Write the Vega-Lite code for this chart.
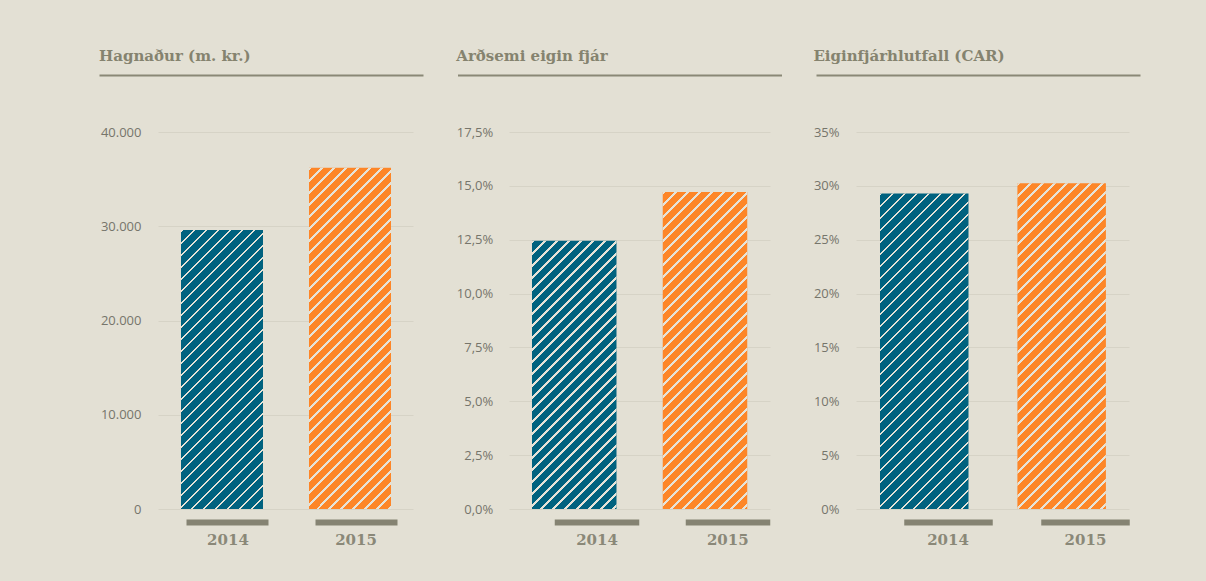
{
 "$schema": "https://vega.github.io/schema/vega-lite/v6.json",
 "background": "#e3e0d4",
 "padding": {"left": 99, "top": 49, "right": 66, "bottom": 40},
 "bounds": "flush",
 "spacing": 34.5,
 "params": [{"name": "hatch", "value": [
  {"offset":0,"color":"#e6e3d8"},{"offset":0.0058,"color":"#e6e3d8"},{"offset":0.0058,"color":"rgba(230,227,216,0)"},{"offset":0.02778,"color":"rgba(230,227,216,0)"},
  {"offset":0.02778,"color":"#e6e3d8"},{"offset":0.03358,"color":"#e6e3d8"},{"offset":0.03358,"color":"rgba(230,227,216,0)"},{"offset":0.05556,"color":"rgba(230,227,216,0)"},
  {"offset":0.05556,"color":"#e6e3d8"},{"offset":0.06136,"color":"#e6e3d8"},{"offset":0.06136,"color":"rgba(230,227,216,0)"},{"offset":0.08333,"color":"rgba(230,227,216,0)"},
  {"offset":0.08333,"color":"#e6e3d8"},{"offset":0.08913,"color":"#e6e3d8"},{"offset":0.08913,"color":"rgba(230,227,216,0)"},{"offset":0.11111,"color":"rgba(230,227,216,0)"},
  {"offset":0.11111,"color":"#e6e3d8"},{"offset":0.11691,"color":"#e6e3d8"},{"offset":0.11691,"color":"rgba(230,227,216,0)"},{"offset":0.13889,"color":"rgba(230,227,216,0)"},
  {"offset":0.13889,"color":"#e6e3d8"},{"offset":0.14469,"color":"#e6e3d8"},{"offset":0.14469,"color":"rgba(230,227,216,0)"},{"offset":0.16667,"color":"rgba(230,227,216,0)"},
  {"offset":0.16667,"color":"#e6e3d8"},{"offset":0.17247,"color":"#e6e3d8"},{"offset":0.17247,"color":"rgba(230,227,216,0)"},{"offset":0.19444,"color":"rgba(230,227,216,0)"},
  {"offset":0.19444,"color":"#e6e3d8"},{"offset":0.20024,"color":"#e6e3d8"},{"offset":0.20024,"color":"rgba(230,227,216,0)"},{"offset":0.22222,"color":"rgba(230,227,216,0)"},
  {"offset":0.22222,"color":"#e6e3d8"},{"offset":0.22802,"color":"#e6e3d8"},{"offset":0.22802,"color":"rgba(230,227,216,0)"},{"offset":0.25,"color":"rgba(230,227,216,0)"},
  {"offset":0.25,"color":"#e6e3d8"},{"offset":0.2558,"color":"#e6e3d8"},{"offset":0.2558,"color":"rgba(230,227,216,0)"},{"offset":0.27778,"color":"rgba(230,227,216,0)"},
  {"offset":0.27778,"color":"#e6e3d8"},{"offset":0.28358,"color":"#e6e3d8"},{"offset":0.28358,"color":"rgba(230,227,216,0)"},{"offset":0.30556,"color":"rgba(230,227,216,0)"},
  {"offset":0.30556,"color":"#e6e3d8"},{"offset":0.31136,"color":"#e6e3d8"},{"offset":0.31136,"color":"rgba(230,227,216,0)"},{"offset":0.33333,"color":"rgba(230,227,216,0)"},
  {"offset":0.33333,"color":"#e6e3d8"},{"offset":0.33913,"color":"#e6e3d8"},{"offset":0.33913,"color":"rgba(230,227,216,0)"},{"offset":0.36111,"color":"rgba(230,227,216,0)"},
  {"offset":0.36111,"color":"#e6e3d8"},{"offset":0.36691,"color":"#e6e3d8"},{"offset":0.36691,"color":"rgba(230,227,216,0)"},{"offset":0.38889,"color":"rgba(230,227,216,0)"},
  {"offset":0.38889,"color":"#e6e3d8"},{"offset":0.39469,"color":"#e6e3d8"},{"offset":0.39469,"color":"rgba(230,227,216,0)"},{"offset":0.41667,"color":"rgba(230,227,216,0)"},
  {"offset":0.41667,"color":"#e6e3d8"},{"offset":0.42247,"color":"#e6e3d8"},{"offset":0.42247,"color":"rgba(230,227,216,0)"},{"offset":0.44444,"color":"rgba(230,227,216,0)"},
  {"offset":0.44444,"color":"#e6e3d8"},{"offset":0.45024,"color":"#e6e3d8"},{"offset":0.45024,"color":"rgba(230,227,216,0)"},{"offset":0.47222,"color":"rgba(230,227,216,0)"},
  {"offset":0.47222,"color":"#e6e3d8"},{"offset":0.47802,"color":"#e6e3d8"},{"offset":0.47802,"color":"rgba(230,227,216,0)"},{"offset":0.5,"color":"rgba(230,227,216,0)"},
  {"offset":0.5,"color":"#e6e3d8"},{"offset":0.5058,"color":"#e6e3d8"},{"offset":0.5058,"color":"rgba(230,227,216,0)"},{"offset":0.52778,"color":"rgba(230,227,216,0)"},
  {"offset":0.52778,"color":"#e6e3d8"},{"offset":0.53358,"color":"#e6e3d8"},{"offset":0.53358,"color":"rgba(230,227,216,0)"},{"offset":0.55556,"color":"rgba(230,227,216,0)"},
  {"offset":0.55556,"color":"#e6e3d8"},{"offset":0.56136,"color":"#e6e3d8"},{"offset":0.56136,"color":"rgba(230,227,216,0)"},{"offset":0.58333,"color":"rgba(230,227,216,0)"},
  {"offset":0.58333,"color":"#e6e3d8"},{"offset":0.58913,"color":"#e6e3d8"},{"offset":0.58913,"color":"rgba(230,227,216,0)"},{"offset":0.61111,"color":"rgba(230,227,216,0)"},
  {"offset":0.61111,"color":"#e6e3d8"},{"offset":0.61691,"color":"#e6e3d8"},{"offset":0.61691,"color":"rgba(230,227,216,0)"},{"offset":0.63889,"color":"rgba(230,227,216,0)"},
  {"offset":0.63889,"color":"#e6e3d8"},{"offset":0.64469,"color":"#e6e3d8"},{"offset":0.64469,"color":"rgba(230,227,216,0)"},{"offset":0.66667,"color":"rgba(230,227,216,0)"},
  {"offset":0.66667,"color":"#e6e3d8"},{"offset":0.67247,"color":"#e6e3d8"},{"offset":0.67247,"color":"rgba(230,227,216,0)"},{"offset":0.69444,"color":"rgba(230,227,216,0)"},
  {"offset":0.69444,"color":"#e6e3d8"},{"offset":0.70024,"color":"#e6e3d8"},{"offset":0.70024,"color":"rgba(230,227,216,0)"},{"offset":0.72222,"color":"rgba(230,227,216,0)"},
  {"offset":0.72222,"color":"#e6e3d8"},{"offset":0.72802,"color":"#e6e3d8"},{"offset":0.72802,"color":"rgba(230,227,216,0)"},{"offset":0.75,"color":"rgba(230,227,216,0)"},
  {"offset":0.75,"color":"#e6e3d8"},{"offset":0.7558,"color":"#e6e3d8"},{"offset":0.7558,"color":"rgba(230,227,216,0)"},{"offset":0.77778,"color":"rgba(230,227,216,0)"},
  {"offset":0.77778,"color":"#e6e3d8"},{"offset":0.78358,"color":"#e6e3d8"},{"offset":0.78358,"color":"rgba(230,227,216,0)"},{"offset":0.80556,"color":"rgba(230,227,216,0)"},
  {"offset":0.80556,"color":"#e6e3d8"},{"offset":0.81136,"color":"#e6e3d8"},{"offset":0.81136,"color":"rgba(230,227,216,0)"},{"offset":0.83333,"color":"rgba(230,227,216,0)"},
  {"offset":0.83333,"color":"#e6e3d8"},{"offset":0.83913,"color":"#e6e3d8"},{"offset":0.83913,"color":"rgba(230,227,216,0)"},{"offset":0.86111,"color":"rgba(230,227,216,0)"},
  {"offset":0.86111,"color":"#e6e3d8"},{"offset":0.86691,"color":"#e6e3d8"},{"offset":0.86691,"color":"rgba(230,227,216,0)"},{"offset":0.88889,"color":"rgba(230,227,216,0)"},
  {"offset":0.88889,"color":"#e6e3d8"},{"offset":0.89469,"color":"#e6e3d8"},{"offset":0.89469,"color":"rgba(230,227,216,0)"},{"offset":0.91667,"color":"rgba(230,227,216,0)"},
  {"offset":0.91667,"color":"#e6e3d8"},{"offset":0.92247,"color":"#e6e3d8"},{"offset":0.92247,"color":"rgba(230,227,216,0)"},{"offset":0.94444,"color":"rgba(230,227,216,0)"},
  {"offset":0.94444,"color":"#e6e3d8"},{"offset":0.95024,"color":"#e6e3d8"},{"offset":0.95024,"color":"rgba(230,227,216,0)"},{"offset":0.97222,"color":"rgba(230,227,216,0)"},
  {"offset":0.97222,"color":"#e6e3d8"},{"offset":0.97802,"color":"#e6e3d8"},{"offset":0.97802,"color":"rgba(230,227,216,0)"},{"offset":1,"color":"rgba(230,227,216,0)"}
 ]}],
 "datasets": {
  "hagnadur": [{"year": "2014", "value": 29600}, {"year": "2015", "value": 36200}],
  "ardsemi": [{"year": "2014", "value": 12.45}, {"year": "2015", "value": 14.72}],
  "car": [{"year": "2014", "value": 29.3}, {"year": "2015", "value": 30.25}]
 },
 "hconcat": [
  {
   "width": 324, "height": 377,
   "title": {"text": "Hagnaður (m. kr.)"},
   "data": {"name": "hagnadur"},
   "layer": [
    {"mark": {"type": "bar"},
     "encoding": {
      "x": {"field": "year", "type": "nominal", "scale": {"paddingInner": 0.3594, "paddingOuter": 0.4453, "align": 0.7193},
        "axis": {"orient": "bottom", "title": null, "domain": false, "offset": 10, "tickSize": 6, "tickWidth": 82, "tickColor": "#858372", "tickOffset": 5.5, "labelAngle": 0, "labelFont": "DejaVu Serif", "labelFontSize": 15, "labelFontWeight": "bold", "labelColor": "#8a8878", "labelPadding": 7}},
      "y": {"field": "value", "type": "quantitative", "scale": {"domain": [0, 40000], "nice": false},
        "axis": {"title": null, "domain": false, "grid": false, "zindex": 0, "offset": -314, "tickSize": 255, "tickColor": "#d6d3c6", "tickWidth": 1, "labelPadding": 17, "values": [0, 10000, 20000, 30000, 40000], "labelExpr": "replace(format(datum.value, ','), ',', '.')"}},
      "color": {"field": "year", "type": "nominal", "scale": {"domain": ["2014", "2015"], "range": ["#00627f", "#fd8628"]}, "legend": null}
     }},
    {"mark": {"type": "bar", "fill": {"expr": "datum.year == '2014' ? {gradient: 'linear', x1: 0, y1: 0, x2: 0.4189, y2: 1.4253, stops: hatch} : {gradient: 'linear', x1: 0, y1: 0, x2: 0.2880, y2: 1.1976, stops: hatch}"}},
     "encoding": {
      "x": {"field": "year", "type": "nominal", "scale": {"paddingInner": 0.3594, "paddingOuter": 0.4453, "align": 0.7193},
        "axis": {"orient": "top", "title": null, "offset": 57, "ticks": false, "labels": false, "domain": true, "domainColor": "#8a8876", "domainWidth": 2}},
      "y": {"field": "value", "type": "quantitative", "axis": null}
     }}
   ],
   "resolve": {"axis": {"x": "independent", "y": "independent"}}
  },
  {
   "width": 324, "height": 377,
   "title": {"text": "Arðsemi eigin fjár"},
   "data": {"name": "ardsemi"},
   "layer": [
    {"mark": {"type": "bar"},
     "encoding": {
      "x": {"field": "year", "type": "nominal", "scale": {"paddingInner": 0.3537, "paddingOuter": 0.4159, "align": 0.685},
        "axis": {"orient": "bottom", "title": null, "domain": false, "offset": 10, "tickSize": 6, "tickWidth": 84.5, "tickColor": "#858372", "tickOffset": 22.3, "labelAngle": 0, "labelFont": "DejaVu Serif", "labelFontSize": 15, "labelFontWeight": "bold", "labelColor": "#8a8878", "labelPadding": 7}},
      "y": {"field": "value", "type": "quantitative", "scale": {"domain": [0, 17.5], "nice": false},
        "axis": {"title": null, "domain": false, "grid": false, "zindex": 0, "offset": -312.5, "tickSize": 261, "tickColor": "#d6d3c6", "tickWidth": 1, "labelPadding": 16.3, "values": [0, 2.5, 5, 7.5, 10, 12.5, 15, 17.5], "labelExpr": "replace(format(datum.value, '.1f'), '.', ',') + '%'"}},
      "color": {"field": "year", "type": "nominal", "scale": {"domain": ["2014", "2015"], "range": ["#00627f", "#fd8628"]}, "legend": null}
     }},
    {"mark": {"type": "bar", "fill": {"expr": "datum.year == '2014' ? {gradient: 'linear', x1: 0, y1: 0, x2: 0.4617, y2: 1.4653, stops: hatch} : {gradient: 'linear', x1: 0, y1: 0, x2: 0.3390, y2: 1.2720, stops: hatch}"}},
     "encoding": {
      "x": {"field": "year", "type": "nominal", "scale": {"paddingInner": 0.3537, "paddingOuter": 0.4159, "align": 0.685},
        "axis": {"orient": "top", "title": null, "offset": 57, "ticks": false, "labels": false, "domain": true, "domainColor": "#8a8876", "domainWidth": 2}},
      "y": {"field": "value", "type": "quantitative", "axis": null}
     }}
   ],
   "resolve": {"axis": {"x": "independent", "y": "independent"}}
  },
  {
   "width": 324, "height": 377,
   "title": {"text": "Eiginfjárhlutfall (CAR)"},
   "data": {"name": "car"},
   "layer": [
    {"mark": {"type": "bar"},
     "encoding": {
      "x": {"field": "year", "type": "nominal", "scale": {"paddingInner": 0.3559, "paddingOuter": 0.357, "align": 0.6524},
        "axis": {"orient": "bottom", "title": null, "domain": false, "offset": 10, "tickSize": 6, "tickWidth": 88.5, "tickColor": "#858372", "tickOffset": 23.3, "labelAngle": 0, "labelFont": "DejaVu Serif", "labelFontSize": 15, "labelFontWeight": "bold", "labelColor": "#8a8878", "labelPadding": 7}},
      "y": {"field": "value", "type": "quantitative", "scale": {"domain": [0, 35], "nice": false},
        "axis": {"title": null, "domain": false, "grid": false, "zindex": 0, "offset": -313, "tickSize": 273, "tickColor": "#d6d3c6", "tickWidth": 1, "labelPadding": 17, "values": [0, 5, 10, 15, 20, 25, 30, 35], "labelExpr": "datum.value + '%'"}},
      "color": {"field": "year", "type": "nominal", "scale": {"domain": ["2014", "2015"], "range": ["#00627f", "#fd8628"]}, "legend": null}
     }},
    {"mark": {"type": "bar", "fill": {"expr": "datum.year == '2014' ? {gradient: 'linear', x1: 0, y1: 0, x2: 0.3559, y2: 1.2690, stops: hatch} : {gradient: 'linear', x1: 0, y1: 0, x2: 0.3354, y2: 1.2349, stops: hatch}"}},
     "encoding": {
      "x": {"field": "year", "type": "nominal", "scale": {"paddingInner": 0.3559, "paddingOuter": 0.357, "align": 0.6524},
        "axis": {"orient": "top", "title": null, "offset": 57, "ticks": false, "labels": false, "domain": true, "domainColor": "#8a8876", "domainWidth": 2}},
      "y": {"field": "value", "type": "quantitative", "axis": null}
     }}
   ],
   "resolve": {"axis": {"x": "independent", "y": "independent"}}
  }
 ],
 "config": {
  "view": {"stroke": null},
  "title": {"font": "DejaVu Serif", "fontSize": 15, "fontWeight": "bold", "color": "#85836f", "anchor": "start", "offset": 11, "baseline": "alphabetic"},
  "axis": {"labelFont": "Open Sans", "labelFontSize": 13, "labelColor": "#76756b"}
 }
}
